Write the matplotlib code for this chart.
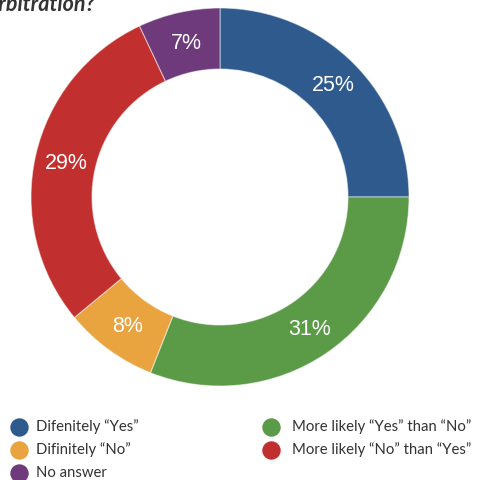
import matplotlib
matplotlib.use("Agg")
import matplotlib.pyplot as plt
import numpy as np

categories = ['Difenitely “Yes”', 'More likely “Yes” than “No”', 'Difinitely “No”',
              'More likely “No” than “Yes”', 'No answer']
values = [25, 31, 8, 29, 7]
colors = ['#2e5a8d', '#5b9a47', '#e9a43f', '#c1302f', '#6e3a7b']
legend_order = [0, 2, 4, 1, 3]

W, H = 480, 481
fig = plt.figure(figsize=(W / 100, H / 100), dpi=100)
ax = fig.add_axes([0, 0, 1, 1])

cx, cy = 220, H - 198
R = 189
r_in = 128
wedges, texts = ax.pie(values, colors=colors, startangle=90, counterclock=False,
                       radius=R, center=(cx, cy), frame=True,
                       wedgeprops=dict(width=R - r_in, edgecolor=(1, 1, 1, 0.5), linewidth=0.8))

total = sum(values)
cum = 0
for v in values:
    mid = 90 - (cum + v / 2) / total * 360
    cum += v
    r = (R + r_in) / 2
    ax.text(cx + r * np.cos(np.radians(mid)) + 1, cy + r * np.sin(np.radians(mid)),
            f"{v}%", color='white', fontsize=15.5, ha='center', va='center',
            family='Liberation Sans')

# legend
col_x = [19, 271]
txt_off = [17, 21]
row_y = [428, 451, 474]
for k, idx in enumerate(legend_order):
    col = 0 if k < 3 else 1
    row = k if k < 3 else k - 3
    x = col_x[col]
    y = H - row_y[row]
    ax.scatter([x], [y], s=150, color=colors[idx], zorder=3, clip_on=False)
    ax.text(x + txt_off[col], y + 1, categories[idx], fontsize=10.7, color='#333333',
            family='Lato', va='center', ha='left')

# clipped title
ax.text(-12, H - 11, 'arbitration?', fontsize=15.5, fontweight='bold', fontstyle='italic',
        family='Lato', color='#333333', va='baseline', ha='left')

ax.set_xlim(0, W)
ax.set_ylim(0, H)
ax.set_aspect('auto')
ax.axis('off')
fig.savefig('out.png', dpi=100)
